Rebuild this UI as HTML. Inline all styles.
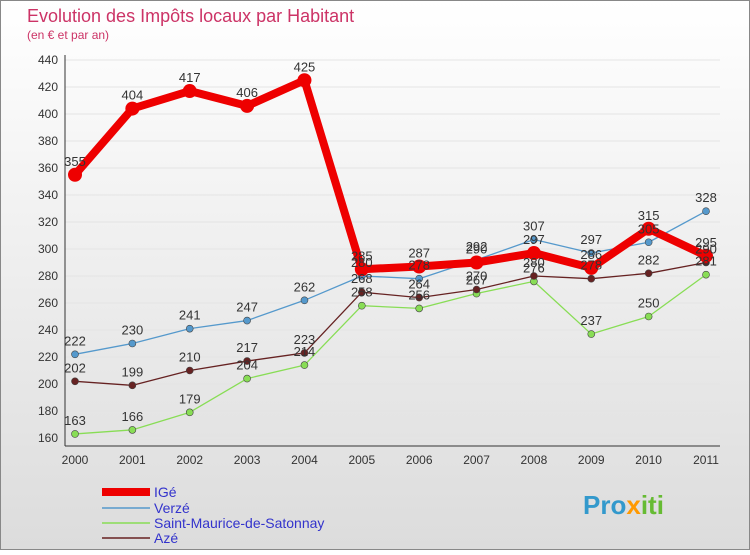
<!DOCTYPE html>
<html><head><meta charset="utf-8"><style>
body{margin:0;width:750px;height:550px;overflow:hidden;font-family:"Liberation Sans",sans-serif}
</style></head><body>
<svg width="750" height="550" xmlns="http://www.w3.org/2000/svg">
<defs><linearGradient id="bg" x1="0" y1="0" x2="0" y2="1"><stop offset="0" stop-color="#ffffff"/><stop offset="1" stop-color="#dcdcdc"/></linearGradient></defs>
<rect x="0.5" y="0.5" width="749" height="549" fill="url(#bg)" stroke="#888"/>
<text x="27" y="22" font-size="18" fill="#cc3366">Evolution des Impôts locaux par Habitant</text>
<text x="27" y="39" font-size="12" fill="#cc3366">(en € et par an)</text>
<g id="grid"></g><g id="axes"></g><g id="series"></g><g id="labels"></g>
<g font-size="14">
<line x1="102" y1="492" x2="150" y2="492" stroke="#ee0000" stroke-width="8"/>
<text x="154" y="497" fill="#3333cc">IGé</text>
<line x1="102" y1="508" x2="150" y2="508" stroke="#5599cc" stroke-width="1.5"/>
<text x="154" y="513" fill="#3333cc">Verzé</text>
<line x1="102" y1="523" x2="150" y2="523" stroke="#88dd55" stroke-width="1.5"/>
<text x="154" y="528" fill="#3333cc">Saint-Maurice-de-Satonnay</text>
<line x1="102" y1="538" x2="150" y2="538" stroke="#662222" stroke-width="1.5"/>
<text x="154" y="543" fill="#3333cc">Azé</text>
</g>
<text x="583" y="514" font-size="26" font-weight="bold" fill="#3399cc">Pro<tspan fill="#ff9900">x</tspan><tspan fill="#66bb33">iti</tspan></text>
</svg>
<script>
const years=["2000","2001","2002","2003","2004","2005","2006","2007","2008","2009","2010","2011"];
const yTicks=[160,180,200,220,240,260,280,300,320,340,360,380,400,420,440];
const ige=[355,404,417,406,425,285,287,290,297,286,315,295];
const verze=[222,230,241,247,262,280,278,292,307,297,305,328];
const stMaurice=[163,166,179,204,214,258,256,267,276,237,250,281];
const aze=[202,199,210,217,223,268,264,270,280,278,282,290];
const NS="http://www.w3.org/2000/svg";
const x=i=>75+i*(706-75)/(years.length-1);
const y=v=>438-(v-160)*(438-60)/280;
function mk(tag,attrs,parent){const e=document.createElementNS(NS,tag);for(const k in attrs)e.setAttribute(k,attrs[k]);document.getElementById(parent).appendChild(e);return e;}
yTicks.forEach(t=>{
 const g=mk('line',{x1:65,x2:720,y1:y(t),y2:y(t),stroke:'#e4e4e4'},'grid');
 
 
 const l=mk('text',{x:58,y:y(t)+4,'font-size':12,fill:'#333','text-anchor':'end'},'axes');l.textContent=t;
 
 
});
const ax=mk('line',{x1:65,x2:65,y1:55,y2:446,stroke:'#333'},'axes');


const bx=mk('line',{x1:65,x2:720,y1:446,y2:446,stroke:'#333'},'axes');


years.forEach((yr,i)=>{
 const l=mk('text',{x:x(i),y:464,'font-size':12,fill:'#333','text-anchor':'middle'},'axes');l.textContent=yr;
 
 
});
function series(vals,color,w,r,name){
 const p=mk('polyline',{points:vals.map((v,i)=>x(i)+','+y(v)).join(' '),fill:'none',stroke:color,'stroke-width':w,'stroke-linejoin':'round'},'series');
 
 
 vals.forEach((v,i)=>{
  const c=mk('circle',{cx:x(i),cy:y(v),r:r,fill:color,stroke:'#444','stroke-width':w>3?0:0.6},'series');
  
  
  const t=mk('text',{x:x(i),y:y(v)-9,'font-size':13,fill:'#333','text-anchor':'middle'},'labels');t.textContent=v;
  
  
 });
}
series(stMaurice,'#88dd55',1.3,3.5,'saint-maurice');
series(aze,'#662222',1.3,3.5,'aze');
series(verze,'#5599cc',1.3,3.5,'verze');
series(ige,'#ee0000',8,7,'ige');
</script>
</body></html>
